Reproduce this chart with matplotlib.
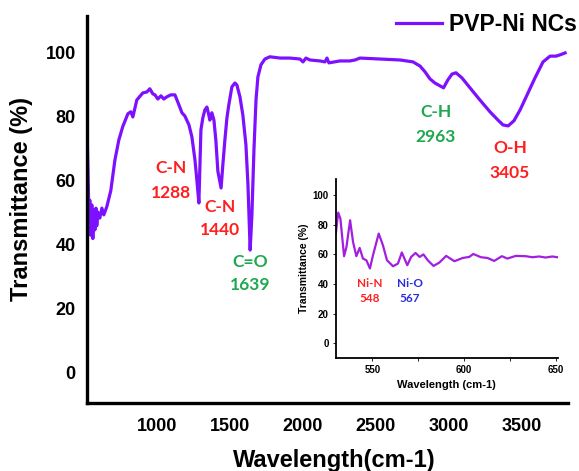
import matplotlib
matplotlib.use("Agg")
import matplotlib.pyplot as plt

plt.rcParams['font.family'] = ['Liberation Sans', 'DejaVu Sans']

# FTIR spectrum of PVP-Ni NCs (wavenumber, transmittance %)
wavenumber = [521, 528, 535, 541, 548, 555, 562, 569, 576, 583, 589, 596, 610, 624,
              637, 658, 685, 713, 740, 767, 802, 822, 836, 863, 904, 932, 952, 973,
              987, 1007, 1028, 1048, 1069, 1096, 1124, 1151, 1172, 1192, 1220, 1240,
              1261, 1274, 1288, 1302, 1315, 1329, 1343, 1356, 1363, 1377, 1391, 1404,
              1418, 1440, 1452, 1466, 1480, 1493, 1514, 1535, 1548, 1569, 1589, 1610,
              1624, 1639, 1651, 1665, 1679, 1692, 1713, 1740, 1774, 1843, 1911, 1980,
              2001, 2021, 2048, 2117, 2151, 2165, 2178, 2254, 2322, 2357, 2391, 2528,
              2665, 2754, 2802, 2836, 2870, 2904, 2939, 2963, 2993, 3021, 3048, 3089,
              3144, 3212, 3281, 3336, 3370, 3405, 3445, 3487, 3535, 3589, 3644, 3692,
              3733, 3760, 3795]
transmittance = [78.4, 64.4, 49.4, 54.0, 43.0, 52.5, 42.0, 51.0, 44.7, 51.5, 46.0, 50.3,
                 48.4, 51.5, 49.4, 52.0, 57.0, 66.5, 72.8, 77.0, 81.0, 81.6, 80.0, 85.3,
                 87.5, 87.8, 88.8, 87.2, 86.9, 85.6, 86.6, 85.6, 86.3, 86.9, 86.9, 83.8,
                 81.3, 80.3, 77.5, 73.8, 66.6, 60.3, 53.1, 76.0, 79.7, 82.2, 83.1, 80.6,
                 79.0, 81.3, 79.0, 72.8, 63.0, 57.8, 65.0, 72.8, 79.7, 83.8, 89.4, 90.6,
                 90.0, 86.3, 80.6, 71.3, 58.8, 38.4, 49.4, 69.7, 85.3, 92.5, 96.3, 98.1,
                 98.8, 98.4, 98.4, 98.1, 97.2, 98.4, 97.8, 97.5, 97.2, 98.4, 96.9, 97.5,
                 97.5, 97.8, 98.4, 98.1, 97.8, 97.2, 95.9, 94.1, 91.9, 90.6, 89.7, 89.1,
                 91.6, 93.4, 93.8, 92.2, 89.1, 85.3, 81.6, 79.0, 77.5, 77.2, 78.8, 82.2,
                 86.9, 92.2, 97.2, 99.0, 99.0, 99.4, 100.0]

# low-wavenumber region (inset)
inset_wn = [530, 531.3, 532.5, 534.5, 535.8, 537.8, 539.4, 541.2, 543, 544.8, 546.7,
            548.6, 550.3, 553.4, 555.7, 557.9, 561.2, 563.9, 566, 569, 571.1, 573.5,
            575.7, 577.8, 580.2, 583.3, 586.5, 590.2, 594.7, 599.2, 602.8, 605, 609.2,
            612.8, 616.4, 620.6, 623.6, 628.2, 633.6, 637.2, 640.9, 644.5, 648.1, 650.8]
inset_tr = [74.1, 88.3, 84.2, 58.8, 65.0, 83.1, 68.4, 58.8, 64.4, 57.2, 56.0, 50.5,
            59.5, 74.1, 66.2, 56.1, 52.0, 53.8, 61.3, 52.7, 58.3, 61.0, 58.3, 60.0,
            56.0, 52.2, 54.5, 59.0, 55.4, 57.6, 58.3, 60.3, 58.1, 57.6, 55.6, 58.8,
            57.2, 59.0, 58.8, 58.1, 58.6, 57.9, 58.6, 58.1]

# band assignments: (group, wavenumber label, x, y of group, y of number, colour)
bands = [("C-N", "1288", 1095, 64.0, 56.2, "#ff1f1f"),
         ("C-N", "1440", 1432, 51.9, 44.7, "#ff1f1f"),
         ("C=O", "1639", 1637, 34.7, 27.5, "#1fa84f"),
         ("C-H", "2963", 2910, 81.6, 73.8, "#1fa84f"),
         ("O-H", "3405", 3418, 70.3, 62.5, "#ff1f1f")]
inset_bands = [("Ni-N", "548", 548.5, 40.5, 30.3, "#ff1f1f"),
               ("Ni-O", "567", 570.5, 40.5, 30.3, "#2a2ae0")]

fig = plt.figure(figsize=(5.79, 4.71), dpi=100)
ax = fig.add_axes([0.150, 0.1444, 0.831, 0.822])
ax.plot(wavenumber, transmittance, color="#7d10ff", lw=2.3, solid_joinstyle="round",
        label="PVP-Ni NCs")
ax.set_xlim(521, 3815)
ax.set_ylim(-9.4, 111.6)
ax.set_xticks([1000, 1500, 2000, 2500, 3000, 3500])
ax.set_yticks([0, 20, 40, 60, 80, 100])
ax.tick_params(length=0, labelsize=13)
ax.tick_params(axis="x", pad=11)
ax.tick_params(axis="y", pad=8)
for lab in ax.get_xticklabels() + ax.get_yticklabels():
    lab.set_fontweight("bold")
for s in ["top", "right"]:
    ax.spines[s].set_visible(False)
for s in ["left", "bottom"]:
    ax.spines[s].set_linewidth(2.4)
ax.set_xlabel("Wavelength(cm-1)", fontsize=17, fontweight="bold")
ax.set_ylabel("Transmittance (%)", fontsize=17, fontweight="bold")
ax.xaxis.set_label_coords(0.5135, -0.12)
ax.yaxis.set_label_coords(-0.112, 0.527)

for name, num, x, y1, y2, c in bands:
    for txt, y in ((name, y1), (num, y2)):
        ax.text(x, y, txt, color=c, fontsize=12.5, fontweight="bold",
                family=["Lato", "DejaVu Sans"], ha="center", va="center")

fig.legend(loc="upper right", bbox_to_anchor=(0.996, 0.972), frameon=False,
           prop={"weight": "bold", "size": 16.5}, handlelength=2.0, handletextpad=0.3,
           borderpad=0, borderaxespad=0)

# inset
ins = fig.add_axes([0.580, 0.240, 0.383, 0.380])
ins.plot(inset_wn, inset_tr, color="#a21fe0", lw=1.6, solid_joinstyle="round")
ins.set_xlim(530, 651)
ins.set_ylim(-10, 111)
ins.set_xticks([550, 575, 600, 625, 650])
ins.set_xticklabels(["550", "", "600", "", "650"])
ins.set_yticks([0, 20, 40, 60, 80, 100])
ins.tick_params(length=2, width=0.6, labelsize=7, pad=3)
for lab in ins.get_xticklabels() + ins.get_yticklabels():
    lab.set_fontweight("bold")
for s in ["top", "right"]:
    ins.spines[s].set_visible(False)
for s in ["left", "bottom"]:
    ins.spines[s].set_linewidth(1.3)
ins.set_xlabel("Wavelength (cm-1)", fontsize=8, fontweight="bold", labelpad=4)
ins.set_ylabel("Transmittance (%)", fontsize=7.5, fontweight="bold", labelpad=3)
ins.patch.set_alpha(0)

for name, num, x, y1, y2, c in inset_bands:
    for txt, y in ((name, y1), (num, y2)):
        ins.text(x, y, txt, color=c, fontsize=8.5, fontweight="bold",
                 family=["Lato", "DejaVu Sans"], ha="center", va="center")

fig.savefig("out.png", dpi=100)
